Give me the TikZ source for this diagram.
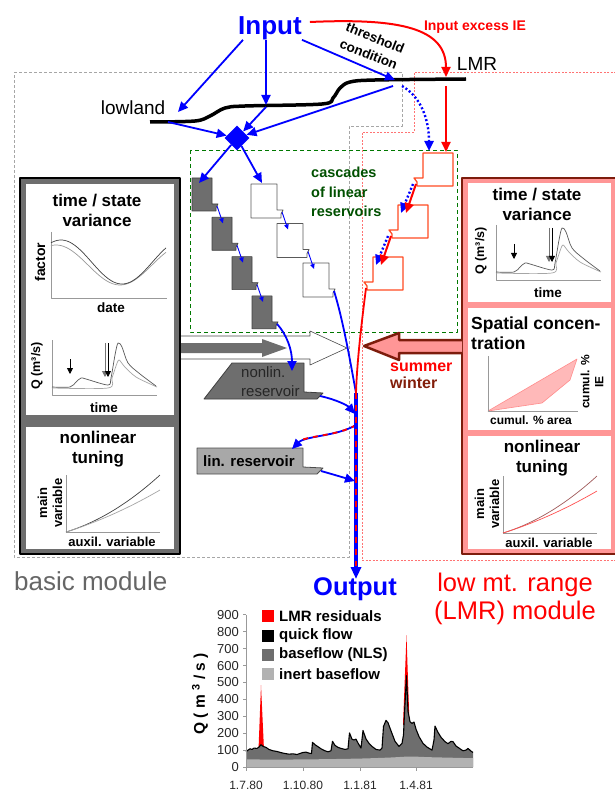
\documentclass[tikz,border=0pt]{standalone}
\usepackage{fontspec}
\setmainfont{Liberation Sans}
\usetikzlibrary{arrows.meta,shapes.geometric}

\definecolor{inblue}{RGB}{0,0,255}
\definecolor{exred}{RGB}{255,0,0}
\definecolor{lmrdark}{RGB}{125,28,12}
\definecolor{lmrpink}{RGB}{255,150,150}
\definecolor{spatfill}{RGB}{255,185,185}
\definecolor{resgray}{RGB}{110,110,110}
\definecolor{lingray}{RGB}{168,168,168}
\definecolor{inertgray}{RGB}{178,178,178}
\definecolor{cascgreen}{RGB}{0,120,0}
\definecolor{casctext}{RGB}{0,80,0}
\definecolor{redbox}{RGB}{255,75,35}
\definecolor{wintercol}{RGB}{130,30,10}
\definecolor{tunedark}{RGB}{160,90,90}
\definecolor{tunelight}{RGB}{255,80,80}

\newcommand{\fsz}[2]{\fontsize{#1}{#2}\selectfont}
% total discharge of the hydrograph (date px, m3/s)
\def\qtotal{(246,90) (248,100) (250,108) (252,104) (254,112) (257,110) (259,118) (261,132) (263,122) (266,116) (269,104) (273,96) (277,92) (281,85) (285,80) (289,76) (293,78) (297,74) (300,80) (303,86) (306,88) (309,82) (311.5,80) (312.5,146) (315,132) (318,120) (321,108) (325,96) (328,90) (331,96) (332.5,152) (335,128) (338,116) (341,110) (345,104) (348,108) (349.5,202) (352,164) (354,160) (356,165) (358,142) (361,112) (363,216) (366,166) (369,140) (372,122) (376,104) (380,100) (382,112) (383.5,240) (386,276) (388,262) (391,214) (395,152) (399,122) (402,140) (403.5,190) (404.5,320) (406.5,540) (408,330) (410,268) (412,258) (414,266) (416,224) (419,180) (423,140) (427,118) (432,100) (434,160) (435,242) (438,205) (441,176) (445,150) (448,138) (451,152) (453,150) (456,124) (460,108) (463,96) (466,100) (468,110) (471,94) (473,86)}
\edef\qfill{\noexpand\fill[resgray] (246,0) -- plot coordinates {\qtotal} -- (473,0) -- cycle;}
\edef\qline{\noexpand\draw[line width=1.1pt] plot coordinates {\qtotal};}

\begin{document}
\begin{tikzpicture}[x=1pt, y=-1pt, line join=round,
  flow/.style={inblue, line width=1.8pt, -{Triangle[length=10pt,width=9pt]}},
  smallflow/.style={inblue, line width=0.9pt, -{Triangle[length=5pt,width=4.5pt]}},
  excess/.style={exred, line width=2pt, -{Triangle[length=10pt,width=9pt]}},
  dotflow/.style={inblue, line width=2.4pt, dash pattern=on 2pt off 2.2pt, -{Triangle[length=10pt,width=9pt]}},
  paneltitle/.style={font=\bfseries\fsz{17}{20}, align=center, inner sep=0pt},
  axislbl/.style={font=\bfseries\fsz{13.5}{15}, align=center, inner sep=0pt},
  axisline/.style={black!40, line width=0.9pt},
  graybox/.style={fill=resgray, draw=black!75, line width=0.6pt},
  whitebox/.style={fill=white, draw=black!65, line width=0.9pt},
  redres/.style={fill=white, draw=redbox, line width=1.3pt},
  tiny arrow/.style={line width=0.8pt, -{Triangle[length=6pt,width=6pt]}}]
\useasboundingbox (0,0) rectangle (614,791);

% module frames
\draw[black!35, line width=0.7pt, dash pattern=on 3pt off 2pt] (14,72) -- (402,72) -- (402,126) -- (349,126) -- (349,557) -- (14,557) -- cycle;
\draw[red!55, line width=0.7pt, dash pattern=on 2pt off 1.5pt] (630,72) -- (414,72) -- (414,132) -- (362,132) -- (362,560) -- (630,560);
\draw[cascgreen, line width=0.9pt, dash pattern=on 4pt off 3pt] (190,150) rectangle (457,332);
\node[font=\bfseries\fsz{14.5}{19.5}, text=casctext, align=left, anchor=west, inner sep=0pt] (casc) at (311,192) {cascades\\of linear\\reservoirs};

% input and landscape
\node[font=\bfseries\fsz{26}{26}, text=inblue, inner sep=0pt] (input) at (270,28) {Input};
\node[font=\bfseries\fsz{14}{14}, text=exred, inner sep=0pt] (excesslbl) at (475,27) {Input excess IE};
\node[font=\bfseries\fsz{13.5}{17.5}, rotate=-22, align=center, inner sep=0pt] (thres) at (372,46) {threshold\\condition};
\node[font=\fsz{19}{19}, inner sep=0pt] (lowland) at (133,108) {lowland};
\node[font=\fsz{19}{19}, inner sep=0pt] (lmr) at (477,64) {LMR};
\draw[line width=3.5pt] plot[smooth, tension=0.55] coordinates {(150,122) (195,121) (210,116) (225,108) (245,106) (322,104) (333,98) (340,88) (350,82) (375,80) (466,79)};

\coordinate (lowtip) at (178,112);
\coordinate (midland) at (266,105);
\coordinate (thrland) at (395,80);
\coordinate (lowpt) at (168,122);
\coordinate (midpt) at (266,107);
\coordinate (highpt) at (393,86);
\coordinate (thrpt) at (402,86);
\coordinate (lmrdrop) at (446,86);
\coordinate (rtop) at (446,152);
\coordinate (lmrhit) at (446,77);

\node[diamond, fill=inblue, minimum width=25pt, minimum height=25pt, inner sep=0pt] (merge) at (237,138) {};

\draw[flow] ([xshift=5pt]input.south west) -- (lowtip);
\draw[flow] ([xshift=-4pt]input.south) -- (midland);
\draw[flow] (input.south east) -- (thrland);
\draw[excess] ([xshift=8pt,yshift=6pt]input.east) .. controls (400,18) and (446,28) .. (lmrhit);
\draw[flow] (lowpt) -- (merge);
\draw[flow] (midpt) -- (merge);
\draw[flow] (highpt) -- (merge);
\draw[excess] (lmrdrop) -- (rtop);
\draw[dotflow] (thrpt) .. controls (418,95) and (429,115) .. (429,151);

% cascades of linear reservoirs
\foreach \i in {0,...,3}{
  \pgfmathsetmacro{\gx}{192+20*\i}
  \pgfmathsetmacro{\gy}{178+39.3*\i}
  \draw[graybox] (\gx,\gy) -- (\gx+20,\gy) -- (\gx+20,\gy+26) -- (\gx+26,\gy+26) -- (\gx+24,\gy+30) -- (\gx+24,\gy+33) -- (\gx,\gy+33) -- cycle;
  \coordinate (gin\i) at (\gx+11,\gy+6);
  \coordinate (gout\i) at (\gx+25,\gy+28);
}
\foreach \i in {0,1,2}{
  \pgfmathsetmacro{\wx}{251+26*\i}
  \pgfmathsetmacro{\wy}{184+39.5*\i}
  \draw[whitebox] (\wx,\wy) -- (\wx+26,\wy) -- (\wx+26,\wy+26) -- (\wx+32,\wy+26) -- (\wx+30,\wy+30) -- (\wx+30,\wy+34) -- (\wx,\wy+34) -- cycle;
  \coordinate (win\i) at (\wx+11,\wy+6);
  \coordinate (wout\i) at (\wx+31,\wy+28);
}
\foreach \i in {0,1,2}{
  \pgfmathsetmacro{\rx}{423-25*\i}
  \pgfmathsetmacro{\ry}{153+52*\i}
  \draw[redres] (\rx,\ry) -- (\rx+30,\ry) -- (\rx+30,\ry+33) -- (\rx-6,\ry+33) -- (\rx-6,\ry+29) -- (\rx-9,\ry+25) -- (\rx,\ry+25) -- cycle;
  \coordinate (rin\i) at (\rx+8,\ry+8);
  \coordinate (rout\i) at (\rx-7,\ry+31);
}
\foreach \i/\j in {0/1,1/2,2/3} \draw[smallflow] (gout\i) -- (gin\j);
\foreach \i/\j in {0/1,1/2} \draw[smallflow] (wout\i) -- (win\j);
\foreach \i/\j in {0/1,1/2}{
  \draw[dotflow] ([xshift=-3pt]rout\i) -- ([xshift=-5pt]rin\j);
  \draw[excess] (rout\i) -- (rin\j);
}
\coordinate (gtop) at (199,183);
\coordinate (wtop) at (262,183);
\draw[flow] (merge) -- (gtop);
\draw[flow] (merge) -- (wtop);

% nonlinear and inert reservoirs
\draw[fill=resgray, draw=black!75, line width=0.8pt] (204,399) -- (232,363) -- (304,363) -- (304,392) -- (323,393) -- (317,399) -- cycle;
\node[font=\fsz{15}{19}, text=black!85, align=left, anchor=west, inner sep=0pt] (nonlin) at (241,382) {nonlin.\\reservoir};
\draw[fill=lingray, draw=black!70, line width=0.8pt] (197,448) -- (303,448) -- (303,467) -- (323,468) -- (317,474) -- (197,474) -- cycle;
\node[font=\bfseries\fsz{15}{15}, anchor=west, inner sep=0pt] (linres) at (203,461) {lin. reservoir};
\coordinate (nlin) at (292,371);
\coordinate (nlout) at (320,396);
\coordinate (lrin) at (292,449);
\coordinate (lrout) at (321,471);
\coordinate (join) at (356,393);
\coordinate (split) at (356,425);
\coordinate (nlhit) at (355,414);
\coordinate (lrhit) at (355,481);
\coordinate (outtip) at (356,579);

% basic module panel
\draw[fill=resgray, line width=1.5pt] (20,178) rectangle (180,554);
\fill[white] (26,184) rectangle (174,415);
\fill[white] (26,427) rectangle (174,549);
\node[paneltitle] (tsvl) at (97,210) {time / state\\variance};
\draw[axisline] (51,232) -- (51,298) -- (167,298);
\draw[black!40, line width=0.7pt] plot[domain=51:166, samples=60] (\x, {265-20*cos((\x-56)/128*360)});
\draw[black!75, line width=0.7pt] plot[domain=51:166, samples=60] (\x, {262-22*cos((\x-61)/122*360)});
\node[axislbl, rotate=90, font=\bfseries\fsz{14}{14}] (factor) at (40,262) {factor};
\node[axislbl] (date) at (111,308) {date};
\node[paneltitle] (nltl) at (98,449) {nonlinear\\tuning};

% LMR module panel
\draw[fill=lmrpink, draw=lmrdark, line width=2.5pt] (462,178) rectangle (640,554);
\fill[white] (468,183) rectangle (611,302);
\fill[white] (468,308) rectangle (611,430);
\fill[white] (468,436) rectangle (611,549);
\node[paneltitle] (tsvr) at (537,204) {time / state\\variance};
\node[font=\bfseries\fsz{17.5}{20}, align=left, anchor=west, inner sep=0pt] (spat) at (471,333) {Spatial concen-\\tration};
\fill[spatfill] plot coordinates {(488,411) (542,403) (570,380) (577,359)} -- cycle;
\draw[red!45, line width=0.6pt] plot coordinates {(488,411) (542,403) (570,380) (577,359)} -- cycle;
\draw[axisline] (488,356) -- (488,411) -- (578,411);
\node[font=\bfseries\fsz{12}{12}, inner sep=0pt] (cumarea) at (531,420) {cumul. \% area};
\node[font=\bfseries\fsz{12}{14}, rotate=90, align=center, inner sep=0pt] (cumie) at (592,382) {cumul. \%\\IE};
\node[paneltitle] (nltr) at (542,458) {nonlinear\\tuning};

% hydrograph sketches (basic, LMR)
\foreach \dx/\dy/\nm in {0/0/l, 444/-115/r}{
  \begin{scope}[shift={(\dx,\dy)}]
    \draw[axisline] (52,340) -- (52,395) -- (157,395);
    \draw[black!35, line width=0.7pt] plot[smooth, tension=0.5] coordinates {(52,388) (108,388) (112,378) (116,366) (119,360) (124,366) (136,377) (157,387)};
    \draw[black!65, line width=0.7pt] plot[smooth, tension=0.5] coordinates {(52,387) (70,387) (76,382) (81,378) (86,379) (108,385) (111,378) (115,355) (118,343) (122,347) (128,363) (140,374) (156,386)};
    \draw[tiny arrow] (70,359) -- (70,374);
    \draw[tiny arrow, black!55] (105,343) -- (105,377);
    \draw[tiny arrow] (108,343) -- (108,377);
    \node[axislbl, rotate=90, font=\bfseries\fsz{12.5}{14}] (qlbl\nm) at (37,366) {Q (m³/s)};
    \node[axislbl] (tlbl\nm) at (104,408) {time};
  \end{scope}
}
% tuning sketches (basic, LMR)
\foreach \dx/\dy/\ca/\cb/\nm in {0/0/black!75/black!35/l, 437/1/tunedark/tunelight/r}{
  \begin{scope}[shift={(\dx,\dy)}]
    \draw[axisline] (66,475) -- (66,532) -- (160,532);
    \draw[\ca, line width=0.7pt] plot[domain=0:1, samples=30] ({66+94*\x}, {532-57*(0.5*\x+0.5*\x*\x)});
    \draw[\cb, line width=0.7pt] plot[domain=0:1, samples=30] ({66+94*\x}, {532-42*(0.7*\x+0.3*\x*\x)});
    \node[axislbl, rotate=90, font=\bfseries\fsz{13}{15}] (mainv\nm) at (50,503) {main\\variable};
    \node[font=\bfseries\fsz{13}{13}, inner sep=0pt] (auxv\nm) at (112,542) {auxil. variable};
  \end{scope}
}

% big transfer arrows
\draw[fill=white, draw=black!70, line width=0.6pt] (181,336) -- (310,336) -- (310,331) -- (347,348) -- (310,365) -- (310,359) -- (181,359);
\fill[resgray] (181,343) -- (262,343) -- (262,339) -- (287,348) -- (262,357) -- (262,353) -- (181,353) -- cycle;
\draw[fill=lmrpink, draw=lmrdark, line width=2.5pt] (462,340) -- (399,340) -- (399,333) -- (364,346) -- (399,360) -- (399,353) -- (462,353);
\node[font=\bfseries\fsz{16}{17}, align=left, anchor=west, inner sep=0pt] (season) at (390,376) {\textcolor{exred}{summer}\\\textcolor{wintercol}{winter}};

% flow paths to the outlet
\draw[inblue, line width=1.8pt] (wout2) .. controls (343,320) and (350,360) .. (join);
\draw[exred, line width=1.8pt] (rout2) .. controls (362,320) and (357,360) .. (join);
\draw[flow] (gout3) .. controls (287,335) and (292,350) .. (nlin);
\draw[flow] (nlout) .. controls (338,400) and (348,406) .. (nlhit);
\draw[flow] (split) .. controls (338,436) and (305,436) .. (lrin);
\draw[exred, line width=1.8pt, dash pattern=on 5pt off 5pt, shorten >=11pt] (split) .. controls (338,436) and (305,436) .. (lrin);
\draw[flow] (lrout) .. controls (335,475) .. (lrhit);
\draw[inblue, line width=3.2pt, -{Triangle[length=12pt,width=10pt]}] (join) -- (outtip);
\draw[exred, line width=2pt, dash pattern=on 6pt off 6pt] (join) -- ([yshift=13pt]outtip);

% module names
\node[font=\fsz{26}{26}, text=black!60, anchor=west, inner sep=0pt] (basicmod) at (14,581) {basic module};
\node[font=\fsz{25.5}{28}, text=exred, align=center, inner sep=0pt] (lmrmod) at (515,599) {low mt. range\\(LMR) module};
\node[font=\bfseries\fsz{25.5}{25.5}, text=inblue, inner sep=0pt] (output) at (355,589) {Output};

% simulated hydrograph
\begin{scope}[shift={(0,767)}, y=0.169pt]
  \fill[exred] (258.5,100) -- (261,485) -- (264,100) -- cycle;
  \fill[exred] (403,250) -- (406.5,780) -- (409.5,250) -- cycle;
  \qfill
  \fill[inertgray] (246,0) -- plot[smooth] coordinates {(246,45) (280,44) (320,46) (360,50) (390,56) (410,62) (430,58) (473,52)} -- (473,0) -- cycle;
  \qline
  \draw[axisline] (246,900) -- (246,0) -- (473,0);
  \foreach \v in {0,100,...,900}{
    \draw[axisline] (243,\v) -- (246,\v);
    \node[font=\fsz{13}{13}, text=black!85, anchor=east, inner sep=0pt] (yt\v) at (239,\v) {\v};
  }
\end{scope}
\foreach \xp/\lbl in {246/1.7.80, 303/1.10.80, 360/1.1.81, 416/1.4.81}{
  \draw[axisline] (\xp,767) -- (\xp,771);
  \node[font=\fsz{12}{12}, text=black!85, inner sep=0pt] (xt\xp) at (\xp,785) {\lbl};
}
\node[font=\bfseries\fsz{15.5}{15.5}, rotate=90, inner sep=0pt] (qaxis) at (200,694) {Q ( m \textsuperscript{3} / s )};
\foreach \yy/\col/\txt in {616/exred/LMR residuals, 636/black/quick flow, 655/resgray/baseflow (NLS), 674/inertgray/inert baseflow}{
  \fill[\col] (262,\yy-6) rectangle (274,\yy+6);
  \node[font=\bfseries\fsz{15}{15}, anchor=west, inner sep=0pt] (leg\yy) at (279,\yy) {\txt};
}
\end{tikzpicture}
\end{document}
